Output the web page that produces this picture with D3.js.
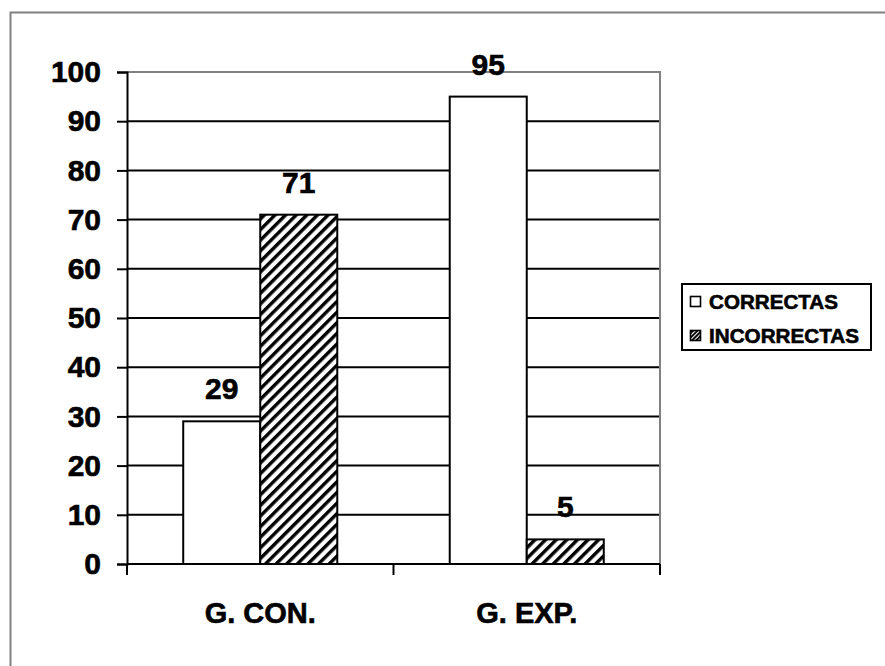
<!DOCTYPE html>
<html>
<head>
<meta charset="utf-8">
<script src="https://cdn.jsdelivr.net/npm/d3@7"></script>
<style>
  html, body { margin: 0; padding: 0; background: #fff; }
  svg { display: block; }
  text { font-family: "Liberation Sans", Arial, sans-serif; font-weight: bold; fill: #000; stroke: #000; stroke-width: 0.6px; }
</style>
</head>
<body>
<svg id="chart" width="885" height="666"></svg>
<script>
const categories = ["G. CON.", "G. EXP."];
const seriesNames = ["CORRECTAS", "INCORRECTAS"];
const correctas = [29, 95];
const incorrectas = [71, 5];
const yTicks = [0, 10, 20, 30, 40, 50, 60, 70, 80, 90, 100];

(function () {
const seriesValues = [correctas, incorrectas];
const data = categories.map((c, i) => ({
  cat: c,
  vals: seriesNames.map((s, j) => ({ series: s, idx: j, value: seriesValues[j][i] }))
}));

const svg = d3.select("#chart");

const defs = svg.append("defs");
const pat = defs.append("pattern")
  .attr("id", "hatch")
  .attr("patternUnits", "userSpaceOnUse")
  .attr("width", 7.5).attr("height", 7.5)
  .attr("patternTransform", "rotate(45)");
pat.append("rect").attr("width", 7.5).attr("height", 7.5).attr("fill", "#fff");
pat.append("rect").attr("x", 0).attr("y", 0).attr("width", 3.4).attr("height", 7.5).attr("fill", "#000");

const patS = defs.append("pattern")
  .attr("id", "hatchSmall")
  .attr("patternUnits", "userSpaceOnUse")
  .attr("width", 3).attr("height", 3)
  .attr("patternTransform", "rotate(45)");
patS.append("rect").attr("width", 3).attr("height", 3).attr("fill", "#fff");
patS.append("rect").attr("width", 1.9).attr("height", 3).attr("fill", "#000");

// outer frame
svg.append("rect")
  .attr("x", 10.5).attr("y", 12.5)
  .attr("width", 900).attr("height", 700)
  .attr("fill", "none").attr("stroke", "#808080").attr("stroke-width", 2);

const pLeft = 127, pRight = 660, pTop = 72, pBottom = 564;

const y = d3.scaleLinear().domain([0, 100]).range([pBottom, pTop]);
const x0 = d3.scaleBand().domain(categories).range([pLeft, pRight]).paddingInner(0).paddingOuter(0);
const x1 = d3.scaleBand().domain(seriesNames).range([0, x0.bandwidth()]).paddingInner(0).paddingOuter(0.73);

// gridlines
svg.append("g").selectAll("line")
  .data(yTicks.filter(t => t > 0 && t < 100))
  .join("line")
  .attr("x1", pLeft).attr("x2", pRight)
  .attr("y1", d => y(d)).attr("y2", d => y(d))
  .attr("stroke", "#000").attr("stroke-width", 2);

// plot area border (top & right) gray
svg.append("path")
  .attr("d", `M${pLeft},${y(100)}H${pRight}V${pBottom}`)
  .attr("fill", "none").attr("stroke", "#808080").attr("stroke-width", 2);

// bars
const groups = svg.append("g").selectAll("g")
  .data(data).join("g")
  .attr("transform", d => `translate(${x0(d.cat)},0)`);

groups.selectAll("rect")
  .data(d => d.vals).join("rect")
  .attr("x", d => x1(d.series))
  .attr("y", d => y(d.value))
  .attr("width", x1.bandwidth())
  .attr("height", d => y(0) - y(d.value))
  .attr("fill", d => d.idx === 0 ? "#fff" : "url(#hatch)")
  .attr("stroke", "#000").attr("stroke-width", 2);

groups.selectAll("text")
  .data(d => d.vals).join("text")
  .attr("x", d => x1(d.series) + x1.bandwidth() / 2)
  .attr("y", d => y(d.value) - 22)
  .attr("text-anchor", "middle")
  .attr("font-size", 30)
  .text(d => d.value);

// y axis
const yAxis = d3.axisLeft(y).tickValues(yTicks).tickSize(10).tickPadding(16);
const gy = svg.append("g").attr("transform", `translate(${pLeft},0)`).call(yAxis);
gy.select(".domain").attr("stroke", "#000").attr("stroke-width", 2);
gy.selectAll(".tick line").attr("stroke", "#000").attr("stroke-width", 2);
gy.selectAll(".tick text")
  .attr("font-size", 30)
  .attr("font-family", "Liberation Sans, Arial, sans-serif")
  .attr("font-weight", "bold")
  .attr("fill", "#000");

// x axis
const gx = svg.append("g").attr("transform", `translate(0,${pBottom})`);
gx.append("line").attr("x1", pLeft).attr("x2", pRight).attr("y1", 0).attr("y2", 0)
  .attr("stroke", "#000").attr("stroke-width", 2);
const boundaries = categories.map(c => x0(c)).concat([x0(categories[categories.length - 1]) + x0.bandwidth()]);
gx.selectAll("line.tk").data(boundaries).join("line")
  .attr("class", "tk")
  .attr("x1", d => d).attr("x2", d => d).attr("y1", 0).attr("y2", 11)
  .attr("stroke", "#000").attr("stroke-width", 2);
gx.selectAll("text").data(categories).join("text")
  .attr("x", d => x0(d) + x0.bandwidth() / 2)
  .attr("y", 59)
  .attr("text-anchor", "middle")
  .attr("font-size", 29)
  .text(d => d);

// legend
const lg = svg.append("g");
lg.append("rect")
  .attr("x", 682).attr("y", 284)
  .attr("width", 189).attr("height", 66)
  .attr("fill", "#fff").attr("stroke", "#000").attr("stroke-width", 2);
const items = lg.selectAll("g.item").data(seriesNames).join("g")
  .attr("class", "item")
  .attr("transform", (d, i) => `translate(0,${i * 34})`);
items.append("rect")
  .attr("x", 690.5).attr("y", 296.5)
  .attr("width", 10).attr("height", 10)
  .attr("fill", (d, i) => i === 0 ? "#fff" : "url(#hatchSmall)")
  .attr("stroke", "#000").attr("stroke-width", 1.6);
items.append("text")
  .attr("x", 709).attr("y", 308.5)
  .attr("font-size", 20.5)
  .attr("textLength", (d, i) => i === 0 ? 129 : 150)
  .attr("lengthAdjust", "spacingAndGlyphs")
  .text(d => d);
})();
</script>
</body>
</html>
